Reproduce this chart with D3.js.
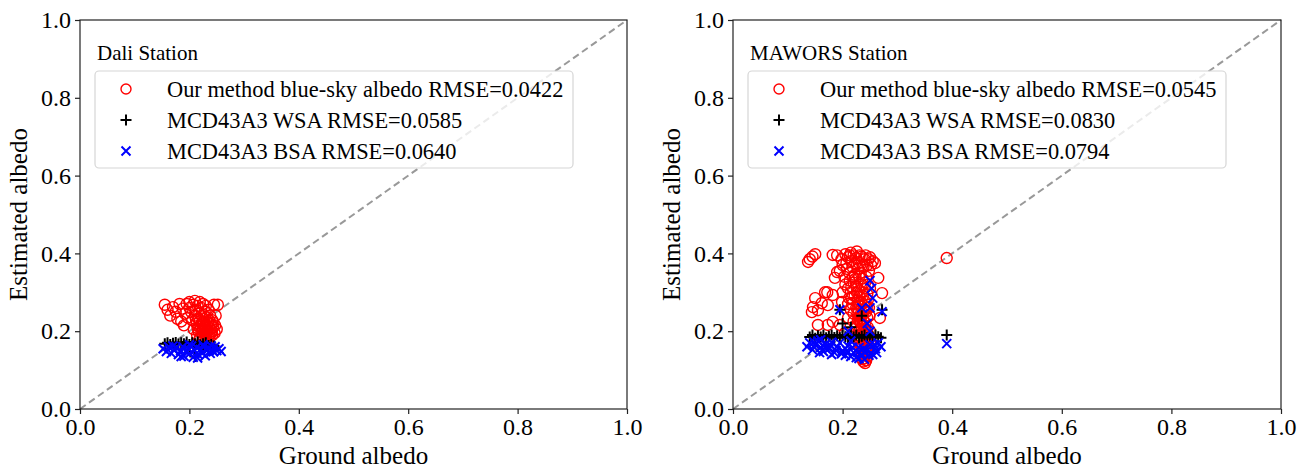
<!DOCTYPE html>
<html>
<head>
<meta charset="utf-8">
<script src="https://cdn.jsdelivr.net/npm/d3@7"></script>
<style>
  body { margin: 0; background: white; }
  svg text { font-family: "Liberation Serif", "Times New Roman", serif !important; }
</style>
</head>
<body>
<div id="chart"></div>
<script>
let width = 1309, height = 468;

// ---- data (ground albedo, estimated albedo) ----
let ticks = [0.0, 0.2, 0.4, 0.6, 0.8, 1.0];

let daliTitle = "Dali Station";
let daliLabels = ["Our method blue-sky albedo RMSE=0.0422", "MCD43A3 WSA RMSE=0.0585", "MCD43A3 BSA RMSE=0.0640"];

let daliOurs = [[0.155,0.268],[0.16,0.255],[0.165,0.24],[0.17,0.262],[0.175,0.25],[0.178,0.232],[0.182,0.27],[0.185,0.225],
  [0.188,0.258],[0.19,0.215],[0.192,0.245],[0.195,0.27],[0.197,0.235],[0.2,0.26],[0.2,0.275],[0.203,0.25],[0.205,0.228],
  [0.207,0.268],[0.208,0.205],[0.21,0.278],[0.21,0.24],[0.212,0.255],[0.213,0.22],[0.214,0.19],[0.215,0.265],[0.216,0.232],
  [0.217,0.2],[0.218,0.245],[0.219,0.275],[0.22,0.215],[0.22,0.185],[0.222,0.26],[0.223,0.238],[0.224,0.205],[0.225,0.27],
  [0.226,0.225],[0.227,0.195],[0.228,0.25],[0.229,0.212],[0.23,0.265],[0.231,0.188],[0.232,0.235],[0.233,0.2],[0.234,0.222],
  [0.235,0.255],[0.236,0.21],[0.237,0.192],[0.238,0.24],[0.24,0.218],[0.241,0.2],[0.242,0.228],[0.243,0.21],[0.245,0.268],
  [0.246,0.195],[0.247,0.215],[0.25,0.205],[0.252,0.268],[0.248,0.24],[0.226,0.18],[0.218,0.178],[0.235,0.182],
  [0.212,0.23],[0.218,0.212],[0.222,0.198],[0.225,0.218],[0.228,0.205],[0.232,0.215],[0.236,0.228],[0.239,0.205],
  [0.242,0.19],[0.244,0.222],[0.23,0.195],[0.226,0.242],[0.219,0.225],[0.215,0.208],[0.229,0.185],[0.24,0.195]];

let daliWSA = [[0.155,0.168],[0.16,0.17],[0.165,0.166],[0.17,0.169],[0.175,0.171],[0.18,0.167],[0.185,0.17],[0.19,0.168],
  [0.195,0.172],[0.2,0.166],[0.205,0.17],[0.21,0.168],[0.215,0.172],[0.22,0.165],[0.225,0.168],[0.23,0.17],[0.235,0.163],
  [0.24,0.166],[0.245,0.162],[0.21,0.135],[0.2,0.16],[0.225,0.158]];

let daliBSA = [[0.152,0.155],[0.158,0.148],[0.162,0.16],[0.167,0.143],[0.172,0.152],[0.176,0.158],[0.18,0.14],[0.184,0.15],
  [0.188,0.16],[0.19,0.136],[0.194,0.147],[0.198,0.155],[0.2,0.142],[0.204,0.162],[0.207,0.133],[0.21,0.15],[0.213,0.158],
  [0.216,0.14],[0.22,0.153],[0.223,0.145],[0.226,0.16],[0.229,0.137],[0.232,0.15],[0.235,0.156],[0.238,0.143],[0.241,0.152],
  [0.244,0.147],[0.247,0.16],[0.25,0.15],[0.254,0.155],[0.258,0.148],[0.185,0.135],[0.215,0.131],[0.2,0.165],[0.17,0.162],
  [0.225,0.165],[0.24,0.162]];

let mawTitle = "MAWORS Station";
let mawLabels = ["Our method blue-sky albedo RMSE=0.0545", "MCD43A3 WSA RMSE=0.0830", "MCD43A3 BSA RMSE=0.0794"];

let mawOurs = [[0.137,0.378],[0.14,0.385],[0.145,0.392],[0.15,0.398],
  [0.15,0.285],[0.146,0.262],[0.155,0.254],[0.162,0.272],[0.144,0.249],[0.172,0.3],[0.173,0.267],[0.155,0.216],[0.173,0.216],
  [0.168,0.3],[0.182,0.293],[0.186,0.337],[0.19,0.352],[0.2,0.3],[0.199,0.275],[0.182,0.224],[0.195,0.216],[0.204,0.195],
  [0.265,0.337],[0.268,0.234],[0.259,0.375],[0.182,0.396],[0.272,0.298],[0.39,0.388],
  [0.19,0.395],[0.198,0.385],[0.205,0.398],[0.21,0.39],[0.215,0.38],[0.22,0.395],[0.225,0.388],[0.23,0.375],[0.235,0.392],
  [0.24,0.385],[0.245,0.37],[0.25,0.39],[0.255,0.38],[0.2,0.37],[0.208,0.36],[0.212,0.35],[0.218,0.365],[0.222,0.345],
  [0.228,0.36],[0.233,0.35],[0.238,0.365],[0.243,0.34],[0.195,0.355],[0.203,0.34],[0.248,0.355],[0.226,0.405],[0.215,0.402],
  [0.205,0.32],[0.21,0.31],[0.215,0.3],[0.22,0.325],[0.225,0.315],[0.23,0.305],[0.235,0.32],[0.24,0.31],[0.245,0.295],
  [0.212,0.285],[0.218,0.27],[0.222,0.29],[0.228,0.28],[0.232,0.265],[0.237,0.29],[0.242,0.275],[0.248,0.26],[0.215,0.255],
  [0.22,0.245],[0.225,0.26],[0.23,0.25],[0.235,0.24],[0.24,0.255],[0.245,0.235],[0.22,0.225],[0.228,0.23],[0.233,0.222],
  [0.238,0.228],[0.25,0.31],[0.21,0.235],
  [0.225,0.21],[0.23,0.2],[0.235,0.212],[0.24,0.205],[0.245,0.195],[0.228,0.19],[0.233,0.18],[0.238,0.19],[0.243,0.178],
  [0.248,0.185],[0.23,0.17],[0.235,0.165],[0.24,0.172],[0.245,0.16],[0.232,0.155],[0.237,0.148],[0.242,0.155],[0.247,0.145],
  [0.235,0.138],[0.24,0.13],[0.245,0.135],[0.238,0.122],[0.243,0.125],[0.25,0.17],[0.25,0.2],
  [0.226,0.3],[0.231,0.29],[0.236,0.3],[0.228,0.27],[0.234,0.275],[0.239,0.265],[0.227,0.245],[0.232,0.238],[0.238,0.245],
  [0.243,0.25],[0.226,0.215],[0.231,0.225],[0.236,0.218],[0.241,0.222],[0.246,0.21],[0.232,0.205],[0.237,0.198],[0.242,0.19],
  [0.229,0.182],[0.239,0.178],[0.244,0.168],[0.234,0.16],[0.239,0.14],[0.244,0.148],[0.236,0.128],[0.241,0.118],
  [0.213,0.33],[0.219,0.34],[0.224,0.335],[0.23,0.34],[0.236,0.335],[0.241,0.325],[0.246,0.32],[0.216,0.315],
  [0.207,0.375],[0.213,0.395],[0.223,0.375],[0.231,0.395],[0.236,0.37],[0.242,0.395],[0.247,0.385],[0.252,0.37],
  [0.21,0.27],[0.216,0.285],[0.246,0.28],[0.249,0.24],[0.244,0.26]];

let mawWSA = [[0.14,0.185],[0.145,0.19],[0.15,0.182],[0.155,0.188],[0.16,0.185],[0.165,0.19],[0.17,0.183],[0.175,0.187],
  [0.18,0.19],[0.185,0.184],[0.19,0.188],[0.195,0.183],[0.2,0.19],[0.205,0.186],[0.21,0.182],[0.215,0.188],[0.22,0.185],
  [0.225,0.19],[0.23,0.183],[0.235,0.187],[0.24,0.19],[0.245,0.184],[0.25,0.188],[0.255,0.185],[0.26,0.19],[0.265,0.186],
  [0.27,0.183],[0.195,0.255],[0.272,0.255],[0.39,0.19],[0.2,0.22],[0.215,0.21],[0.235,0.24]];

let mawBSA = [[0.135,0.16],[0.14,0.17],[0.145,0.152],[0.15,0.165],[0.155,0.175],[0.16,0.158],[0.165,0.148],[0.17,0.168],
  [0.175,0.155],[0.18,0.172],[0.185,0.145],[0.19,0.16],[0.195,0.17],[0.2,0.15],[0.205,0.138],[0.21,0.162],[0.215,0.175],
  [0.22,0.145],[0.225,0.132],[0.23,0.158],[0.235,0.14],[0.24,0.128],[0.245,0.15],[0.25,0.165],[0.255,0.14],[0.26,0.155],
  [0.265,0.17],[0.27,0.16],[0.24,0.145],[0.23,0.13],[0.195,0.255],[0.272,0.25],[0.39,0.168],[0.25,0.26],[0.255,0.285],
  [0.253,0.31],[0.25,0.33],[0.245,0.22],[0.25,0.2],[0.235,0.26],[0.21,0.2],[0.16,0.178],[0.18,0.14],[0.215,0.135],
  [0.148,0.172],[0.158,0.145],[0.168,0.158],[0.178,0.164],[0.188,0.15],[0.198,0.142],[0.208,0.15],[0.218,0.158],
  [0.228,0.145],[0.238,0.155],[0.248,0.138],[0.258,0.165],[0.262,0.145]];

let svg = d3.select('#chart')
  .append('svg')
  .attr('width', width)
  .attr('height', height)
  .style('background', 'white');

let serif = '"Liberation Serif", "Times New Roman", serif';

function drawPanel(left, right, title, labels, ours, wsa, bsa) {
  let top = 20, bottom = 409;

  let x = d3.scaleLinear().domain([0, 1]).range([left, right]);
  let y = d3.scaleLinear().domain([0, 1]).range([bottom, top]);

  let g = svg.append('g');

  // 1:1 line
  g.append('line')
    .attr('x1', x(0)).attr('y1', y(0))
    .attr('x2', x(1)).attr('y2', y(1))
    .attr('stroke', '#999')
    .attr('stroke-width', 2)
    .attr('stroke-dasharray', '7,4');

  g.selectAll('.ours')
    .data(ours)
    .enter()
    .append('circle')
    .attr('cx', d => x(d[0]))
    .attr('cy', d => y(d[1]))
    .attr('r', 5.5)
    .attr('fill', 'none')
    .attr('stroke', 'red')
    .attr('stroke-width', 1.4);

  g.selectAll('.wsa')
    .data(wsa)
    .enter()
    .append('path')
    .attr('d', 'M-5.5,0H5.5M0,-5.5V5.5')
    .attr('transform', d => `translate(${x(d[0])},${y(d[1])})`)
    .attr('stroke', 'black')
    .attr('stroke-width', 2);

  g.selectAll('.bsa')
    .data(bsa)
    .enter()
    .append('path')
    .attr('d', 'M-4.5,-4.5L4.5,4.5M-4.5,4.5L4.5,-4.5')
    .attr('transform', d => `translate(${x(d[0])},${y(d[1])})`)
    .attr('stroke', 'blue')
    .attr('stroke-width', 2);

  // axes
  let fmt = d3.format('.1f');
  let xAxis = g.append('g')
    .attr('transform', `translate(0, ${bottom})`)
    .call(d3.axisBottom(x).tickValues(ticks).tickFormat(fmt).tickSize(5).tickPadding(4));
  let yAxis = g.append('g')
    .attr('transform', `translate(${left}, 0)`)
    .call(d3.axisLeft(y).tickValues(ticks).tickFormat(fmt).tickSize(5).tickPadding(4));
  [xAxis, yAxis].forEach(a => {
    a.attr('font-family', serif).attr('font-size', 24);
    a.selectAll('text').attr('fill', 'black').style('font-family', serif).style('font-size', '24px');
    a.selectAll('line').attr('stroke', '#222').attr('stroke-width', 1.2);
    a.select('.domain').remove();
  });

  // frame
  g.append('rect')
    .attr('x', left).attr('y', top)
    .attr('width', right - left).attr('height', bottom - top)
    .attr('fill', 'none')
    .attr('stroke', '#222')
    .attr('stroke-width', 1.2);

  g.append('text')
    .text('Ground albedo')
    .attr('x', (left + right) / 2)
    .attr('y', 464)
    .attr('text-anchor', 'middle')
    .style('font-size', '25px');

  g.append('text')
    .text('Estimated albedo')
    .attr('transform', `translate(${left - 53}, ${(top + bottom) / 2}) rotate(-90)`)
    .attr('text-anchor', 'middle')
    .style('font-size', '25px');

  // legend
  g.append('text')
    .text(title)
    .attr('x', left + 17)
    .attr('y', 60)
    .style('font-size', '21px');

  g.append('rect')
    .attr('x', left + 15).attr('y', 71)
    .attr('width', 478).attr('height', 97)
    .attr('rx', 4)
    .attr('fill', 'white')
    .attr('fill-opacity', 0.8)
    .attr('stroke', '#d6d6d6')
    .attr('stroke-width', 1.2);

  let rows = [89, 120, 151];
  let mx = left + 46;
  g.append('circle').attr('cx', mx).attr('cy', rows[0]).attr('r', 5)
    .attr('fill', 'none').attr('stroke', 'red').attr('stroke-width', 1.4);
  g.append('path').attr('d', 'M-5.5,0H5.5M0,-5.5V5.5')
    .attr('transform', `translate(${mx},${rows[1]})`)
    .attr('stroke', 'black').attr('stroke-width', 2);
  g.append('path').attr('d', 'M-4.5,-4.5L4.5,4.5M-4.5,4.5L4.5,-4.5')
    .attr('transform', `translate(${mx},${rows[2]})`)
    .attr('stroke', 'blue').attr('stroke-width', 2);

  labels.forEach((l, i) => {
    g.append('text')
      .text(l)
      .attr('x', left + 87)
      .attr('y', rows[i])
      .attr('dy', '0.35em')
      .style('font-size', '22.4px');
  });
}

drawPanel(80, 627, daliTitle, daliLabels, daliOurs, daliWSA, daliBSA);
drawPanel(733, 1281, mawTitle, mawLabels, mawOurs, mawWSA, mawBSA);
</script>
</body>
</html>
